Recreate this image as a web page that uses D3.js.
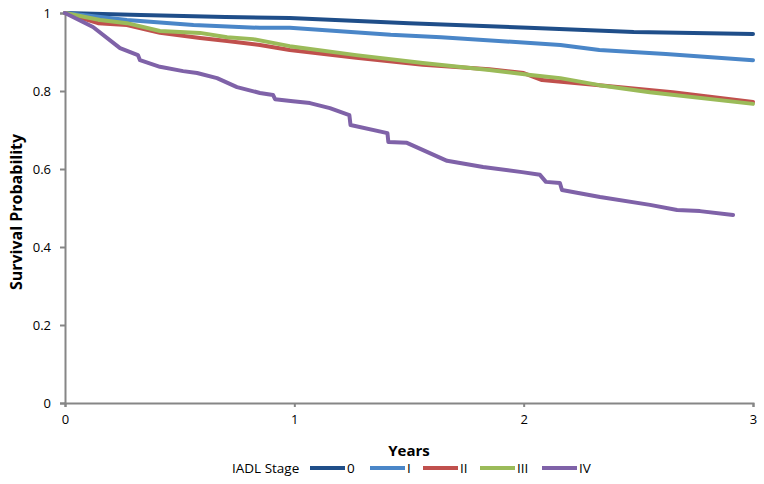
<!DOCTYPE html>
<html><head><meta charset="utf-8">
<script src="https://cdn.jsdelivr.net/npm/d3@7"></script>
<style>body{margin:0;background:#fff}svg{display:block}text{font-family:"Open Sans","Lato",sans-serif}</style>
</head><body><svg id="c" width="764" height="484"></svg>
<script>
const stages = ["0","I","II","III","IV"];
const colors = ["#1F4E89","#4A86C8","#C0504D","#9BBB59","#7F62A8"];
const xTicks = [0,1,2,3];
const yTicks = [0,0.2,0.4,0.6,0.8,1];
const yTickLabels = ["0","0.2","0.4","0.6","0.8","1"];
const s0 = [[0,1],[0.33,0.995],[0.7,0.99],[0.98,0.987],[1.5,0.974],[2.02,0.962],[2.48,0.951],[3.0,0.946]];
const s1 = [[0,1],[0.27,0.982],[0.56,0.969],[0.85,0.962],[0.98,0.962],[1.42,0.944],[1.64,0.938],[2.03,0.923],[2.16,0.918],[2.33,0.905],[2.62,0.895],[3.0,0.879]];
const s2 = [[0,1],[0.144,0.974],[0.27,0.969],[0.414,0.949],[0.589,0.936],[0.707,0.928],[0.85,0.918],[0.98,0.905],[1.27,0.885],[1.56,0.867],[1.85,0.856],[2.0,0.846],[2.08,0.828],[2.33,0.815],[2.65,0.797],[3.0,0.772]];
const s3 = [[0,1],[0.153,0.982],[0.27,0.974],[0.414,0.954],[0.589,0.949],[0.707,0.938],[0.82,0.933],[0.98,0.915],[1.27,0.892],[1.56,0.872],[1.85,0.854],[2.03,0.841],[2.16,0.833],[2.33,0.815],[2.55,0.797],[3.0,0.767]];
const s4 = [[0,1],[0.122,0.964],[0.24,0.91],[0.318,0.892],[0.327,0.879],[0.414,0.862],[0.515,0.851],[0.576,0.846],[0.663,0.833],[0.75,0.81],[0.85,0.795],[0.907,0.79],[0.916,0.779],[0.994,0.774],[1.068,0.769],[1.155,0.756],[1.24,0.738],[1.245,0.713],[1.406,0.692],[1.41,0.669],[1.491,0.667],[1.666,0.621],[1.823,0.605],[1.993,0.592],[2.071,0.585],[2.097,0.567],[2.158,0.564],[2.167,0.546],[2.333,0.528],[2.551,0.508],[2.669,0.495],[2.769,0.492],[2.913,0.482]];
const series = [s0,s1,s2,s3,s4];

const svg = d3.select("#c");
const x = d3.scaleLinear().domain([0,3]).range([65,753]);
const y = d3.scaleLinear().domain([0,1]).range([403,13]);
const axisColor = "#868686";

const gy = svg.append("g").attr("transform","translate(65,0)")
  .call(d3.axisLeft(y).tickValues(yTicks).tickFormat((d,i)=>yTickLabels[i]).tickSize(5).tickPadding(9));
const gx = svg.append("g").attr("transform","translate(0,403)")
  .call(d3.axisBottom(x).tickValues(xTicks).tickFormat(d3.format("d")).tickSize(4).tickPadding(8));
[gx,gy].forEach(g=>{
  g.selectAll("path,line").attr("stroke",axisColor).attr("stroke-width",2);
  g.selectAll("text").attr("fill","#000").style("font-size","13px").style("font-family","'Open Sans',sans-serif");
});

const line = d3.line().x(d=>x(d[0])).y(d=>y(d[1]));
series.forEach((s,i)=>{
  svg.append("path").datum(s).attr("d",line).attr("fill","none")
    .attr("stroke",colors[i]).attr("stroke-width",4).attr("stroke-linejoin","round").attr("stroke-linecap","round");
});

svg.append("text").attr("transform","translate(22,212) rotate(-90)").attr("text-anchor","middle")
  .style("font-size","16px").style("font-weight","bold").text("Survival Probability");
svg.append("text").attr("x",409).attr("y",456).attr("text-anchor","middle")
  .style("font-size","15px").style("font-weight","bold").text("Years");

const lg = svg.append("g");
lg.append("text").attr("x",232).attr("y",473).style("font-size","13.5px").text("IADL Stage");
const lx = [310,370,423,480,542];
stages.forEach((s,i)=>{
  lg.append("line").attr("x1",lx[i]).attr("x2",lx[i]+35).attr("y1",468).attr("y2",468)
    .attr("stroke",colors[i]).attr("stroke-width",4);
  lg.append("text").attr("x",lx[i]+37).attr("y",473).style("font-size","13.5px").text(s);
});
</script></body></html>
